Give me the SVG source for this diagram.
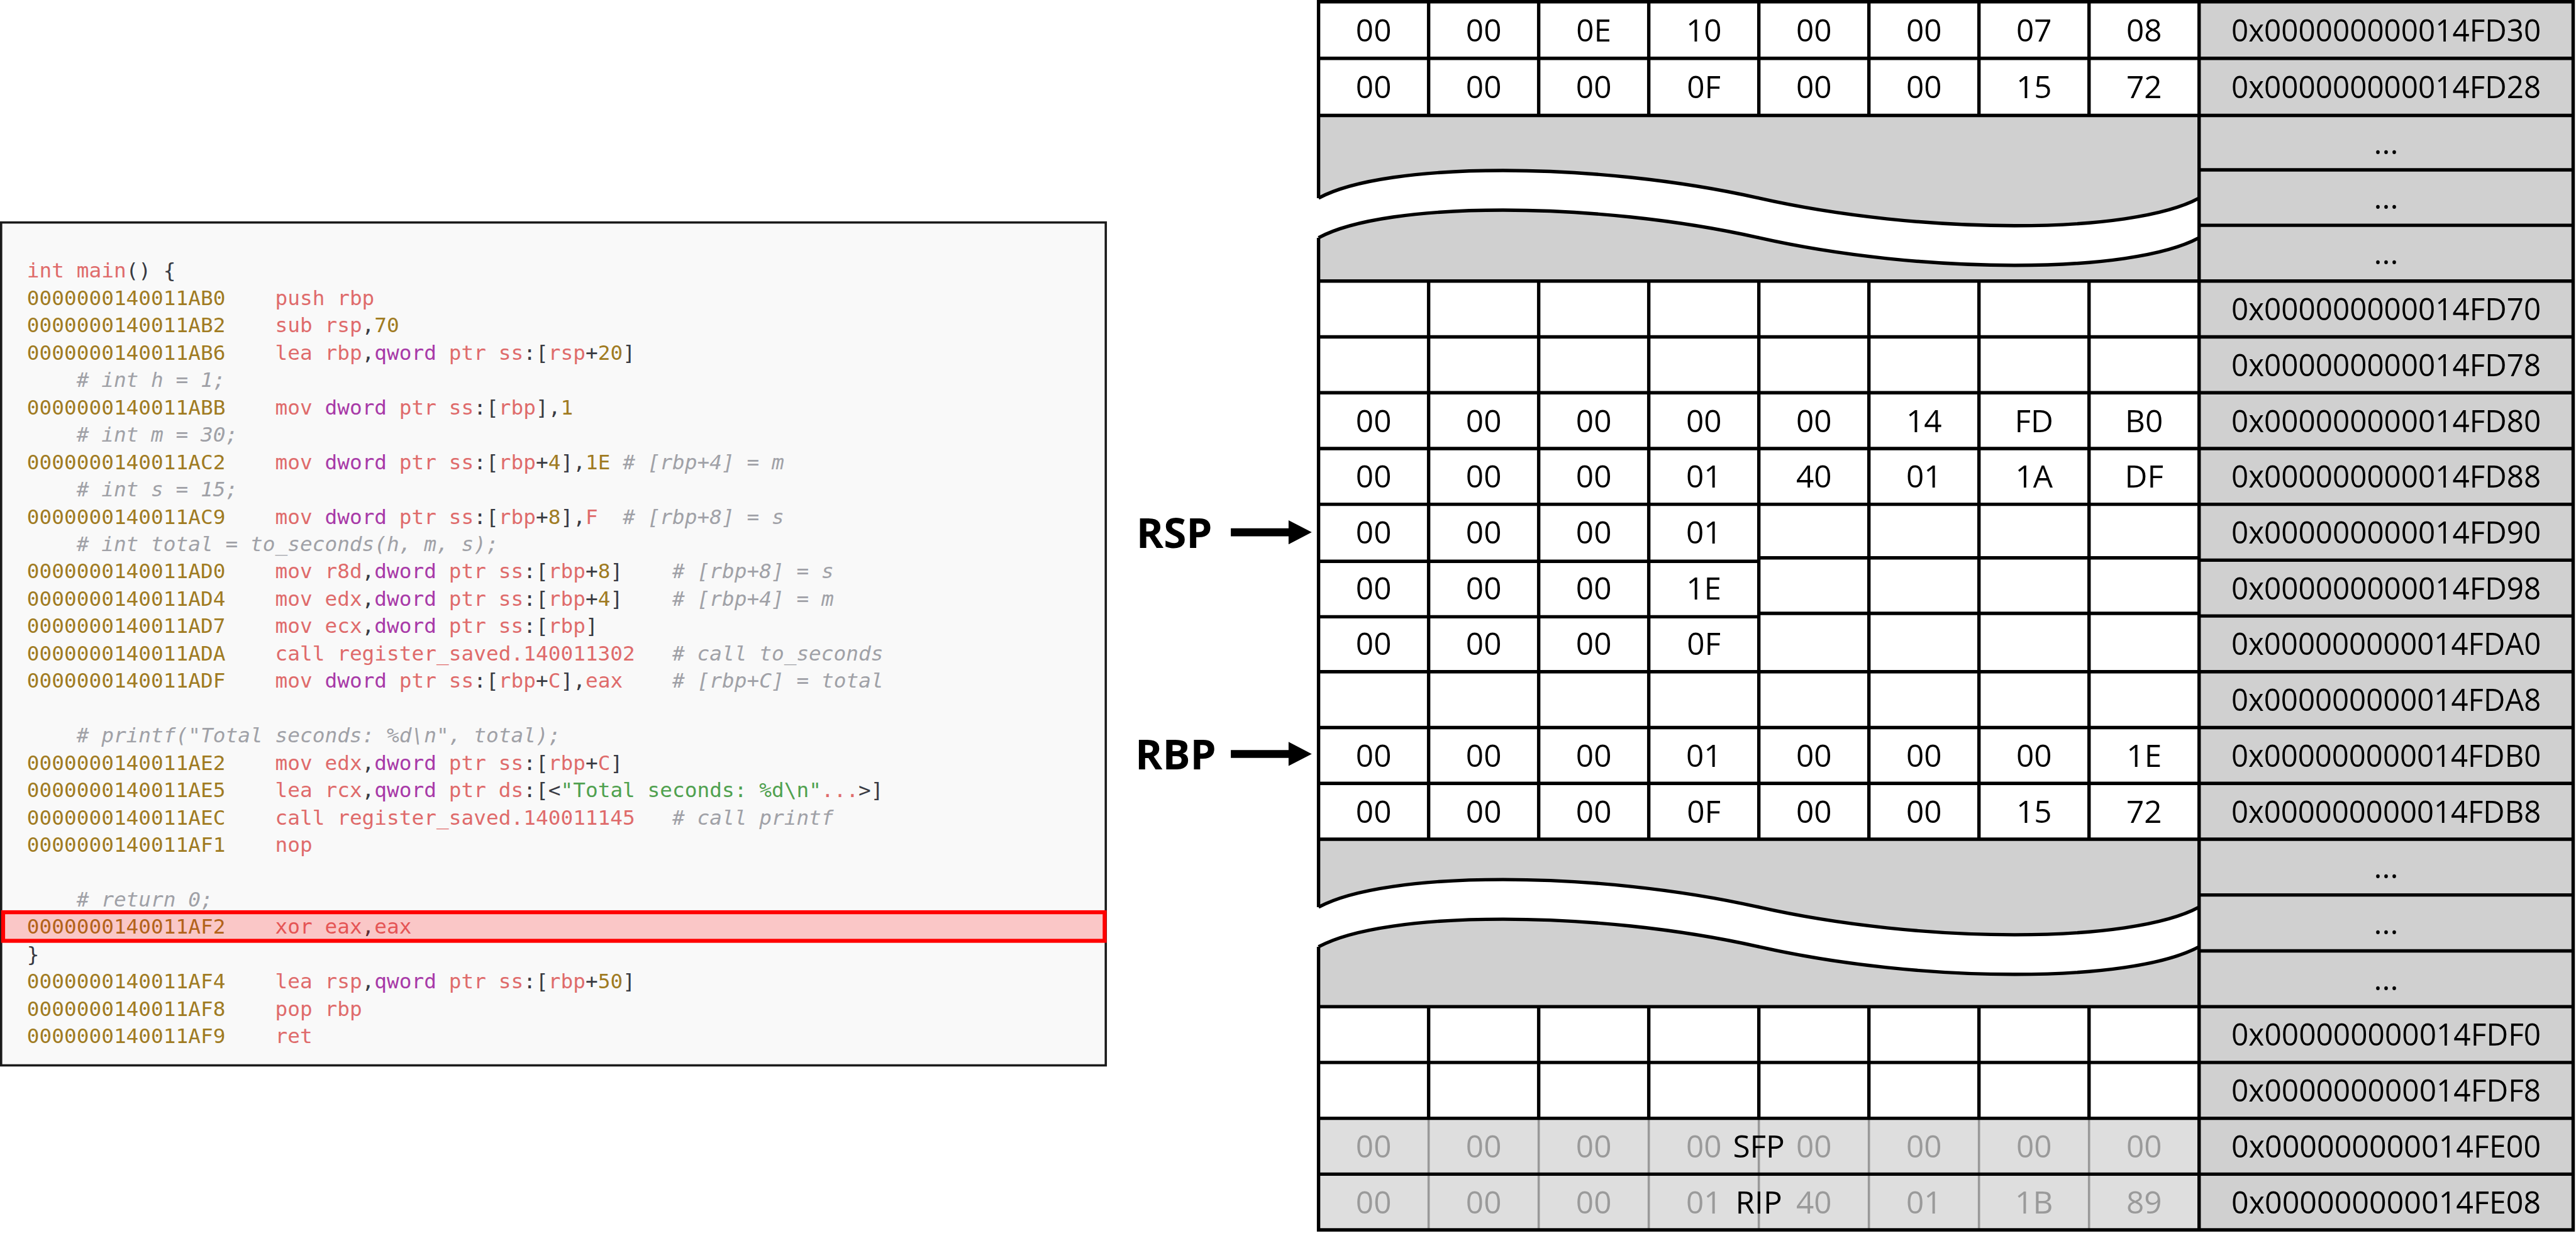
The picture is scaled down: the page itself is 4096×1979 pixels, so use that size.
<svg xmlns="http://www.w3.org/2000/svg" width="4096" height="1979" viewBox="0 0 4096 1979">
<style>
.c{font-family:"DejaVu Sans Mono","Liberation Mono",monospace;font-size:36.45px;white-space:pre;fill:#383a42}
.a{fill:#a07b22}.r{fill:#df6b6b}.k{fill:#a83aa8}.g{fill:#50a14f}.p{fill:#383a42}
.m{fill:#a0a1a7;font-style:italic}
.h{font-family:"Open Sans","Noto Sans",sans-serif;font-size:55px;text-anchor:middle;fill:#000}
.hg{fill:#9a9a9a}
.ad{font-family:"Open Sans","Noto Sans",sans-serif;font-size:55px;text-anchor:middle;fill:#000}
.reg{font-family:"Open Sans","Noto Sans",sans-serif;font-size:73px;font-weight:bold;fill:#000}
.ln{stroke:#000;stroke-width:6;fill:none}
.lg{stroke:#999;stroke-width:4;fill:none}
.cv{stroke:#000;stroke-width:6;fill:none}
</style>
<rect x="0" y="0" width="4096" height="1979" fill="#fff"/>
<g transform="scale(0.899824)">
<g id="code">
<rect x="2" y="393" width="1952" height="1489" fill="#f9f9f9" stroke="#1a1a1a" stroke-width="4"/>
<text class="c" x="47.5" y="490.5"><tspan class="r">int main</tspan><tspan class="p">() {</tspan></text>
<text class="c" x="47.5" y="538.8"><tspan class="a">0000000140011AB0</tspan>    <tspan class="r">push rbp</tspan></text>
<text class="c" x="47.5" y="587.1"><tspan class="a">0000000140011AB2</tspan>    <tspan class="r">sub rsp</tspan><tspan class="p">,</tspan><tspan class="a">70</tspan></text>
<text class="c" x="47.5" y="635.4"><tspan class="a">0000000140011AB6</tspan>    <tspan class="r">lea rbp</tspan><tspan class="p">,</tspan><tspan class="k">qword</tspan><tspan class="r"> ptr ss</tspan><tspan class="p">:[</tspan><tspan class="r">rsp</tspan><tspan class="p">+</tspan><tspan class="a">20</tspan><tspan class="p">]</tspan></text>
<text class="c m" x="47.5" y="683.7">    # int h = 1;</text>
<text class="c" x="47.5" y="732.0"><tspan class="a">0000000140011ABB</tspan>    <tspan class="r">mov </tspan><tspan class="k">dword</tspan><tspan class="r"> ptr ss</tspan><tspan class="p">:[</tspan><tspan class="r">rbp</tspan><tspan class="p">],</tspan><tspan class="a">1</tspan></text>
<text class="c m" x="47.5" y="780.3">    # int m = 30;</text>
<text class="c" x="47.5" y="828.6"><tspan class="a">0000000140011AC2</tspan>    <tspan class="r">mov </tspan><tspan class="k">dword</tspan><tspan class="r"> ptr ss</tspan><tspan class="p">:[</tspan><tspan class="r">rbp</tspan><tspan class="p">+</tspan><tspan class="a">4</tspan><tspan class="p">],</tspan><tspan class="a">1E</tspan><tspan class="m"> # [rbp+4] = m</tspan></text>
<text class="c m" x="47.5" y="876.9">    # int s = 15;</text>
<text class="c" x="47.5" y="925.2"><tspan class="a">0000000140011AC9</tspan>    <tspan class="r">mov </tspan><tspan class="k">dword</tspan><tspan class="r"> ptr ss</tspan><tspan class="p">:[</tspan><tspan class="r">rbp</tspan><tspan class="p">+</tspan><tspan class="a">8</tspan><tspan class="p">],</tspan><tspan class="r">F</tspan><tspan class="m">  # [rbp+8] = s</tspan></text>
<text class="c m" x="47.5" y="973.5">    # int total = to_seconds(h, m, s);</text>
<text class="c" x="47.5" y="1021.8"><tspan class="a">0000000140011AD0</tspan>    <tspan class="r">mov r8d</tspan><tspan class="p">,</tspan><tspan class="k">dword</tspan><tspan class="r"> ptr ss</tspan><tspan class="p">:[</tspan><tspan class="r">rbp</tspan><tspan class="p">+</tspan><tspan class="a">8</tspan><tspan class="p">]</tspan><tspan class="m">    # [rbp+8] = s</tspan></text>
<text class="c" x="47.5" y="1070.1"><tspan class="a">0000000140011AD4</tspan>    <tspan class="r">mov edx</tspan><tspan class="p">,</tspan><tspan class="k">dword</tspan><tspan class="r"> ptr ss</tspan><tspan class="p">:[</tspan><tspan class="r">rbp</tspan><tspan class="p">+</tspan><tspan class="a">4</tspan><tspan class="p">]</tspan><tspan class="m">    # [rbp+4] = m</tspan></text>
<text class="c" x="47.5" y="1118.4"><tspan class="a">0000000140011AD7</tspan>    <tspan class="r">mov ecx</tspan><tspan class="p">,</tspan><tspan class="k">dword</tspan><tspan class="r"> ptr ss</tspan><tspan class="p">:[</tspan><tspan class="r">rbp</tspan><tspan class="p">]</tspan></text>
<text class="c" x="47.5" y="1166.7"><tspan class="a">0000000140011ADA</tspan>    <tspan class="r">call register_saved.140011302</tspan><tspan class="m">   # call to_seconds</tspan></text>
<text class="c" x="47.5" y="1215.0"><tspan class="a">0000000140011ADF</tspan>    <tspan class="r">mov </tspan><tspan class="k">dword</tspan><tspan class="r"> ptr ss</tspan><tspan class="p">:[</tspan><tspan class="r">rbp</tspan><tspan class="p">+</tspan><tspan class="r">C</tspan><tspan class="p">],</tspan><tspan class="r">eax</tspan><tspan class="m">    # [rbp+C] = total</tspan></text>
<text class="c m" x="47.5" y="1311.6">    # printf("Total seconds: %d\n", total);</text>
<text class="c" x="47.5" y="1359.9"><tspan class="a">0000000140011AE2</tspan>    <tspan class="r">mov edx</tspan><tspan class="p">,</tspan><tspan class="k">dword</tspan><tspan class="r"> ptr ss</tspan><tspan class="p">:[</tspan><tspan class="r">rbp</tspan><tspan class="p">+</tspan><tspan class="r">C</tspan><tspan class="p">]</tspan></text>
<text class="c" x="47.5" y="1408.2"><tspan class="a">0000000140011AE5</tspan>    <tspan class="r">lea rcx</tspan><tspan class="p">,</tspan><tspan class="k">qword</tspan><tspan class="r"> ptr ds</tspan><tspan class="p">:[&lt;</tspan><tspan class="g">"Total seconds: %d\n"</tspan><tspan class="r">...</tspan><tspan class="p">&gt;]</tspan></text>
<text class="c" x="47.5" y="1456.5"><tspan class="a">0000000140011AEC</tspan>    <tspan class="r">call register_saved.140011145</tspan><tspan class="m">   # call printf</tspan></text>
<text class="c" x="47.5" y="1504.8"><tspan class="a">0000000140011AF1</tspan>    <tspan class="r">nop</tspan></text>
<text class="c m" x="47.5" y="1601.4">    # return 0;</text>
<text class="c" x="47.5" y="1649.7"><tspan class="a">0000000140011AF2</tspan>    <tspan class="r">xor eax</tspan><tspan class="p">,</tspan><tspan class="r">eax</tspan></text>
<text class="c p" x="47.5" y="1698.0">}</text>
<text class="c" x="47.5" y="1746.3"><tspan class="a">0000000140011AF4</tspan>    <tspan class="r">lea rsp</tspan><tspan class="p">,</tspan><tspan class="k">qword</tspan><tspan class="r"> ptr ss</tspan><tspan class="p">:[</tspan><tspan class="r">rbp</tspan><tspan class="p">+</tspan><tspan class="a">50</tspan><tspan class="p">]</tspan></text>
<text class="c" x="47.5" y="1794.6"><tspan class="a">0000000140011AF8</tspan>    <tspan class="r">pop rbp</tspan></text>
<text class="c" x="47.5" y="1842.9"><tspan class="a">0000000140011AF9</tspan>    <tspan class="r">ret</tspan></text>
<rect id="highlight" x="5.5" y="1611.5" width="1946.5" height="50.5" fill="#ff0000" fill-opacity="0.2" stroke="#ff0000" stroke-width="7"/>
</g>

<g id="stack">
<rect x="3886" y="3" width="661" height="2170" fill="#d0d0d0"/>
<rect x="2330" y="204" width="1556" height="292.5" fill="#d0d0d0"/>
<rect x="2330" y="1482.5" width="1556" height="295.8" fill="#d0d0d0"/>
<rect x="2330" y="1975.5" width="1556" height="197.2" fill="#dedede"/>
<path d="M2324,350 L2330,350 C2450,285 2820,285 3108,350 C3396,415 3766,415 3886,350 L3886,420 C3766,485 3396,485 3108,420 C2820,355 2450,355 2330,420 L2324,420 Z" fill="#fff"/>
<path d="M2324,1602.5 L2330,1602.5 C2450,1537.5 2820,1537.5 3108,1602.5 C3396,1667.5 3766,1667.5 3886,1602.5 L3886,1672.5 C3766,1737.5 3396,1737.5 3108,1672.5 C2820,1607.5 2450,1607.5 2330,1672.5 L2324,1672.5 Z" fill="#fff"/>
<path class="cv" d="M2330,350 C2450,285 2820,285 3108,350 C3396,415 3766,415 3886,350"/>
<path class="cv" d="M2330,420 C2450,355 2820,355 3108,420 C3396,485 3766,485 3886,420"/>
<path class="cv" d="M2330,1602.5 C2450,1537.5 2820,1537.5 3108,1602.5 C3396,1667.5 3766,1667.5 3886,1602.5"/>
<path class="cv" d="M2330,1672.5 C2450,1607.5 2820,1607.5 3108,1672.5 C3396,1737.5 3766,1737.5 3886,1672.5"/>
<path class="lg" d="M2524.5,1975.5V2172.7M2719,1975.5V2172.7M2913.5,1975.5V2172.7M3108,1975.5V2172.7M3302.5,1975.5V2172.7M3497,1975.5V2172.7M3691.5,1975.5V2172.7"/>
<path class="ln" d="M2524.5,3V204M2719,3V204M2913.5,3V204M3108,3V204M3302.5,3V204M3497,3V204M3691.5,3V204
M2524.5,496.5V1482.5M2719,496.5V1482.5M2913.5,496.5V1482.5M3108,496.5V1482.5M3302.5,496.5V1482.5M3497,496.5V1482.5M3691.5,496.5V1482.5
M2524.5,1778.3V1975.5M2719,1778.3V1975.5M2913.5,1778.3V1975.5M3108,1778.3V1975.5M3302.5,1778.3V1975.5M3497,1778.3V1975.5M3691.5,1778.3V1975.5
M2330,0V350M2330,420V1602.5M2330,1672.5V2175.7M3886,0V2175.7M4547,0V2175.7
M2327,3H4550M2327,103H4550M2327,204H4550M3886,300H4550M3886,398H4550
M2327,496.5H4550M2327,595.1H4550M2327,693.7H4550M2327,792.3H4550M2327,890.9H4550
M2327,991.5H3108M3108,985.5H3886M3886,989.5H4550
M2327,1089.5H3108M3108,1083.5H3886M3886,1088.1H4550
M2327,1186.7H4550M2327,1285.3H4550M2327,1383.9H4550M2327,1482.5H4550
M3886,1581H4550M3886,1679.7H4550
M2327,1778.3H4550M2327,1876.9H4550M2327,1975.5H4550M2327,2074.1H4550M2327,2172.7H4550"/>

<g id="row-FD30" class="h"><text x="2427.3" y="73">00</text><text x="2621.8" y="73">00</text><text x="2816.3" y="73">0E</text><text x="3010.8" y="73">10</text><text x="3205.3" y="73">00</text><text x="3399.8" y="73">00</text><text x="3594.3" y="73">07</text><text x="3788.8" y="73">08</text><text x="4216.5" y="73" textLength="547" lengthAdjust="spacingAndGlyphs">0x000000000014FD30</text></g>
<g id="row-FD28" class="h"><text x="2427.3" y="173.5">00</text><text x="2621.8" y="173.5">00</text><text x="2816.3" y="173.5">00</text><text x="3010.8" y="173.5">0F</text><text x="3205.3" y="173.5">00</text><text x="3399.8" y="173.5">00</text><text x="3594.3" y="173.5">15</text><text x="3788.8" y="173.5">72</text><text x="4216.5" y="173.5" textLength="547" lengthAdjust="spacingAndGlyphs">0x000000000014FD28</text></g>
<g id="gap-upper" class="h"><text x="4216.5" y="272">...</text><text x="4216.5" y="369">...</text><text x="4216.5" y="467">...</text></g>
<g id="row-FD70" class="h"><text x="4216.5" y="565.8" textLength="547" lengthAdjust="spacingAndGlyphs">0x000000000014FD70</text></g>
<g id="row-FD78" class="h"><text x="4216.5" y="664.4" textLength="547" lengthAdjust="spacingAndGlyphs">0x000000000014FD78</text></g>
<g id="row-FD80" class="h"><text x="2427.3" y="763">00</text><text x="2621.8" y="763">00</text><text x="2816.3" y="763">00</text><text x="3010.8" y="763">00</text><text x="3205.3" y="763">00</text><text x="3399.8" y="763">14</text><text x="3594.3" y="763">FD</text><text x="3788.8" y="763">B0</text><text x="4216.5" y="763" textLength="547" lengthAdjust="spacingAndGlyphs">0x000000000014FD80</text></g>
<g id="row-FD88" class="h"><text x="2427.3" y="861.6">00</text><text x="2621.8" y="861.6">00</text><text x="2816.3" y="861.6">00</text><text x="3010.8" y="861.6">01</text><text x="3205.3" y="861.6">40</text><text x="3399.8" y="861.6">01</text><text x="3594.3" y="861.6">1A</text><text x="3788.8" y="861.6">DF</text><text x="4216.5" y="861.6" textLength="547" lengthAdjust="spacingAndGlyphs">0x000000000014FD88</text></g>
<g id="row-FD90" class="h"><text x="2427.3" y="960.2">00</text><text x="2621.8" y="960.2">00</text><text x="2816.3" y="960.2">00</text><text x="3010.8" y="960.2">01</text><text x="4216.5" y="960.2" textLength="547" lengthAdjust="spacingAndGlyphs">0x000000000014FD90</text></g>
<g id="row-FD98" class="h"><text x="2427.3" y="1058.8">00</text><text x="2621.8" y="1058.8">00</text><text x="2816.3" y="1058.8">00</text><text x="3010.8" y="1058.8">1E</text><text x="4216.5" y="1058.8" textLength="547" lengthAdjust="spacingAndGlyphs">0x000000000014FD98</text></g>
<g id="row-FDA0" class="h"><text x="2427.3" y="1157.4">00</text><text x="2621.8" y="1157.4">00</text><text x="2816.3" y="1157.4">00</text><text x="3010.8" y="1157.4">0F</text><text x="4216.5" y="1157.4" textLength="547" lengthAdjust="spacingAndGlyphs">0x000000000014FDA0</text></g>
<g id="row-FDA8" class="h"><text x="4216.5" y="1256" textLength="547" lengthAdjust="spacingAndGlyphs">0x000000000014FDA8</text></g>
<g id="row-FDB0" class="h"><text x="2427.3" y="1354.6">00</text><text x="2621.8" y="1354.6">00</text><text x="2816.3" y="1354.6">00</text><text x="3010.8" y="1354.6">01</text><text x="3205.3" y="1354.6">00</text><text x="3399.8" y="1354.6">00</text><text x="3594.3" y="1354.6">00</text><text x="3788.8" y="1354.6">1E</text><text x="4216.5" y="1354.6" textLength="547" lengthAdjust="spacingAndGlyphs">0x000000000014FDB0</text></g>
<g id="row-FDB8" class="h"><text x="2427.3" y="1453.2">00</text><text x="2621.8" y="1453.2">00</text><text x="2816.3" y="1453.2">00</text><text x="3010.8" y="1453.2">0F</text><text x="3205.3" y="1453.2">00</text><text x="3399.8" y="1453.2">00</text><text x="3594.3" y="1453.2">15</text><text x="3788.8" y="1453.2">72</text><text x="4216.5" y="1453.2" textLength="547" lengthAdjust="spacingAndGlyphs">0x000000000014FDB8</text></g>
<g id="gap-lower" class="h"><text x="4216.5" y="1551.8">...</text><text x="4216.5" y="1650.4">...</text><text x="4216.5" y="1749">...</text></g>
<g id="row-FDF0" class="h"><text x="4216.5" y="1847.6" textLength="547" lengthAdjust="spacingAndGlyphs">0x000000000014FDF0</text></g>
<g id="row-FDF8" class="h"><text x="4216.5" y="1946.2" textLength="547" lengthAdjust="spacingAndGlyphs">0x000000000014FDF8</text></g>
<g id="row-FE00" class="h"><g class="hg"><text x="2427.3" y="2044.8">00</text><text x="2621.8" y="2044.8">00</text><text x="2816.3" y="2044.8">00</text><text x="3010.8" y="2044.8">00</text><text x="3205.3" y="2044.8">00</text><text x="3399.8" y="2044.8">00</text><text x="3594.3" y="2044.8">00</text><text x="3788.8" y="2044.8">00</text></g><text x="3108" y="2044.8">SFP</text><text x="4216.5" y="2044.8" textLength="547" lengthAdjust="spacingAndGlyphs">0x000000000014FE00</text></g>
<g id="row-FE08" class="h"><g class="hg"><text x="2427.3" y="2143.4">00</text><text x="2621.8" y="2143.4">00</text><text x="2816.3" y="2143.4">00</text><text x="3010.8" y="2143.4">01</text><text x="3205.3" y="2143.4">40</text><text x="3399.8" y="2143.4">01</text><text x="3594.3" y="2143.4">1B</text><text x="3788.8" y="2143.4">89</text></g><text x="3108" y="2143.4">RIP</text><text x="4216.5" y="2143.4" textLength="547" lengthAdjust="spacingAndGlyphs">0x000000000014FE08</text></g>
</g>

<g id="rsp-label"><text class="reg" x="2008" y="967.5">RSP</text></g>
<g id="rbp-label"><text class="reg" x="2006" y="1359">RBP</text></g>
<g id="connectors">
<polygon points="2175,933.3 2277,933.3 2277,919 2318,940.3 2277,961.5 2277,947.5 2175,947.5" fill="#000"/>
<polygon points="2175,1325 2277,1325 2277,1310.5 2318,1331.8 2277,1353 2277,1339 2175,1339" fill="#000"/>
</g>
</g>
</svg>
